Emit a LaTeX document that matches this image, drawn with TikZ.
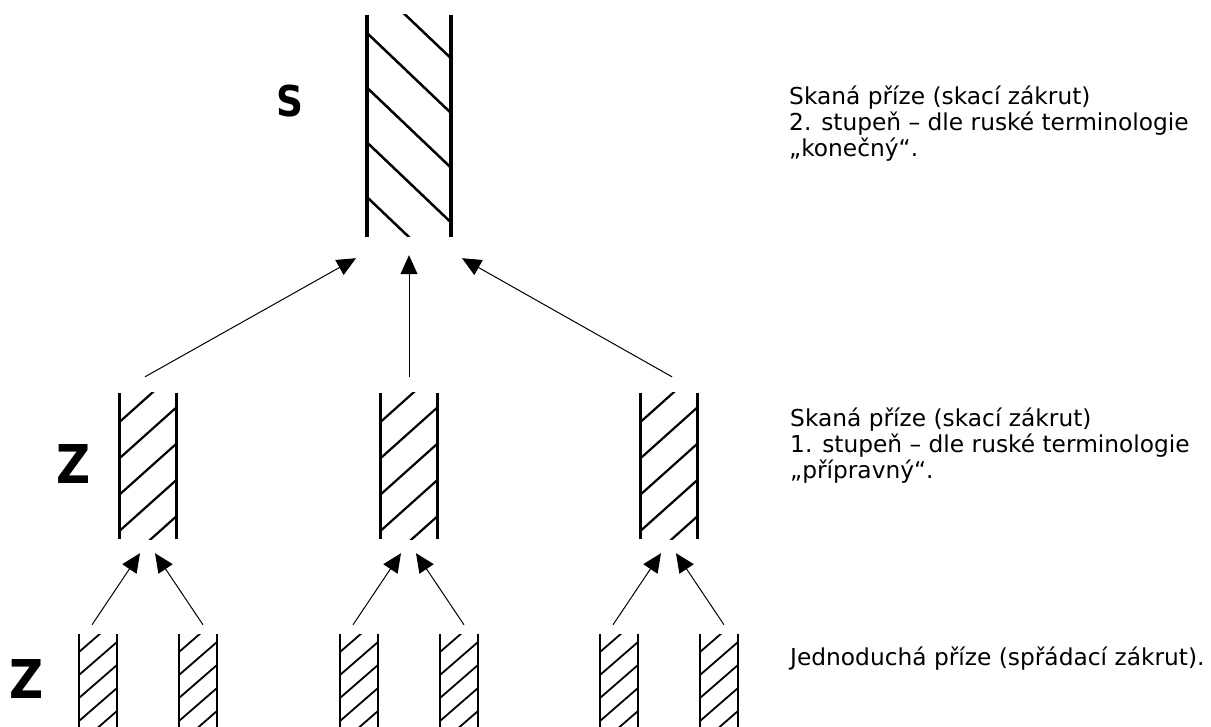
\documentclass[tikz,border=0pt]{standalone}
\usepackage{fontspec}
\setmainfont{DejaVu Sans}
\newfontfamily\labfont{DejaVu Sans}[FakeStretch=0.88]
\usetikzlibrary{arrows.meta}
\begin{document}
\begin{tikzpicture}[x=1pt,y=-1pt,
   shatch/.style n args={5}{path picture={\foreach \k in {-1,...,#4}
      \draw[line width=#5] ([yshift={(-#1-\k*#2)*1pt}]path picture bounding box.north west)
         -- ([yshift={(-#1-\k*#2-#3)*1pt}]path picture bounding box.north east);}},
   zhatch/.style n args={5}{path picture={\foreach \k in {0,...,#4}
      \draw[line width=#5] ([yshift={(-#1-\k*#2)*1pt}]path picture bounding box.north west)
         -- ([yshift={(-#1-\k*#2+#3)*1pt}]path picture bounding box.north east);}},
   yarnS/.style={rectangle,inner sep=0pt,minimum width=84pt,minimum height=222pt,shatch={18}{54.7}{80}{3}{2.5pt}},
   yarnZ/.style={rectangle,inner sep=0pt,minimum width=57pt,minimum height=146pt,zhatch={29}{36.3}{51}{4}{2.2pt}},
   yarnJ/.style={rectangle,inner sep=0pt,minimum width=38pt,minimum height=110pt,zhatch={18}{23}{33}{7}{1.8pt}},
   arr/.style={-{Triangle[length=19pt,width=17pt]},line width=1pt},
   lab/.style={inner sep=0pt,anchor=base,font=\labfont\bfseries\fontsize{53.5}{54}\selectfont},
   txt/.style={inner sep=0pt,anchor=base west,align=left,font=\fontsize{23.3}{26.2}\selectfont}]
   \clip (0,0) rectangle (1211,727);
   \node[yarnS] (s) at (409,126) {};
   \draw[line width=4pt] (s.north west) -- (s.south west) (s.north east) -- (s.south east);
   \foreach \g/\x in {1/148,2/409,3/669} {
      \node[yarnZ] (z\g) at (\x,466) {};
      \node[yarnJ] (j\g a) at (\x-50,689) {};
      \node[yarnJ] (j\g b) at (\x+50,689) {};
      \draw[line width=3.3pt] (z\g.north west) -- (z\g.south west) (z\g.north east) -- (z\g.south east);
      \draw[line width=2pt] (j\g a.north west) -- (j\g a.south west) (j\g a.north east) -- (j\g a.south east);
      \draw[line width=2pt] (j\g b.north west) -- (j\g b.south west) (j\g b.north east) -- (j\g b.south east);
      \draw[arr] ([xshift=-6pt,yshift=9pt]j\g a.north) -- ([xshift=-8pt,yshift=-14pt]z\g.south);
      \draw[arr] ([xshift=5pt,yshift=9pt]j\g b.north) -- ([xshift=7pt,yshift=-14pt]z\g.south);
   }
   \draw[arr] ([xshift=-3pt,yshift=16pt]z1.north) -- ([xshift=-53pt,yshift=-21pt]s.south);
   \draw[arr] ([yshift=16pt]z2.north) -- ([yshift=-18pt]s.south);
   \draw[arr] ([xshift=3pt,yshift=16pt]z3.north) -- ([xshift=53pt,yshift=-21pt]s.south);
   \node[lab,font=\labfont\bfseries\fontsize{42.5}{43}\selectfont] (ls) at (290,117) {S};
   \node[lab] (lz) at (74,483) {Z};
   \node[lab] (lj) at (27,698) {Z};
   \node[txt] (ts) at (789,156.5) {Skaná příze (skací zákrut)\\2. stupeň – dle ruské terminologie\\„konečný“.};
   \node[txt] (tz) at (790,478.5) {Skaná příze (skací zákrut)\\1. stupeň – dle ruské terminologie\\„přípravný“.};
   \node[txt] (tj) at (790,665) {Jednoduchá příze (spřádací zákrut).};
\end{tikzpicture}
\end{document}
